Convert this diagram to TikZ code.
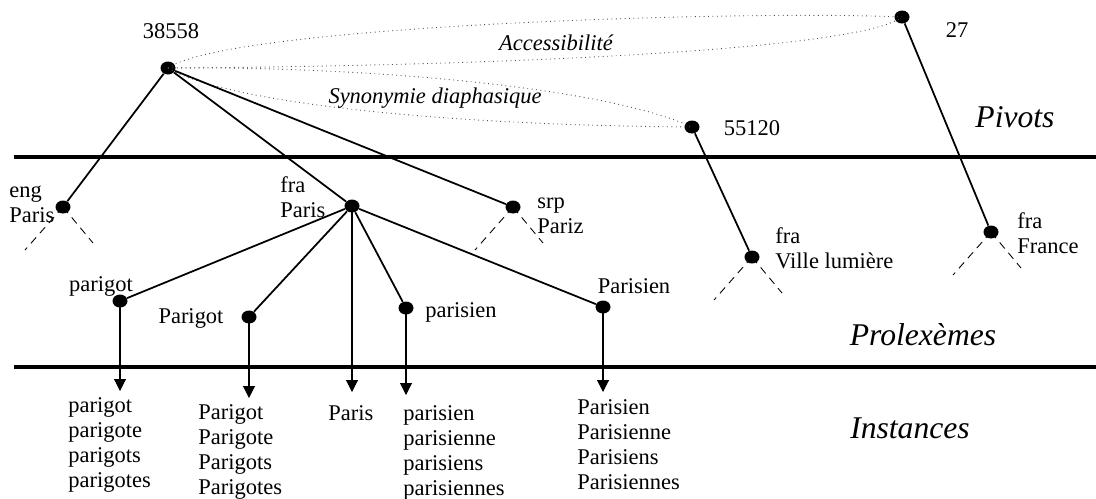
\documentclass[tikz,border=0pt]{standalone}
\usepackage{fontspec}
\setmainfont{Liberation Serif}
\usetikzlibrary{arrows.meta,shapes.geometric}
\begin{document}
\begin{tikzpicture}
  [x=0.02cm,y=-0.02cm,
   every node/.style={font=\fontsize{12.8}{14.2}\selectfont},
   dot/.style={ellipse,fill=black,inner sep=0pt,minimum width=15*0.02cm,minimum height=13*0.02cm},
   txt/.style={inner sep=0pt,align=left},
   lvl/.style={font=\fontsize{18}{21}\selectfont\itshape,inner sep=0pt},
   rlbl/.style={font=\fontsize{12.8}{14.2}\selectfont\itshape,inner sep=0pt},
   sep/.style={line width=2.2pt},
   link/.style={line width=1pt},
   leaf/.style={line width=0.5pt,dash pattern=on 4.5pt off 3.2pt},
   inst/.style={line width=0.6pt,-{Triangle[width=0.24cm,length=0.24cm]}},
   rel/.style={line width=0.5pt,dotted,black!70}]
  \useasboundingbox (0,0) rectangle (1096,498);

  % levels
  \draw[sep] (14,157) -- (1096,157);
  \draw[sep] (14,367) -- (1096,367);
  \node[lvl] (pivots) at (1015,117) {Pivots};
  \node[lvl] (prolex) at (923,335) {Prolexèmes};
  \node[lvl] (instances) at (910,428) {Instances};

  % pivots
  \node[dot] (p38558) at (168,68) {};
  \node[dot] (p27) at (902,17) {};
  \node[dot] (p55120) at (692,127) {};
  \node[txt] (l38558) at (171,31) {38558};
  \node[txt] (l27) at (957,30) {27};
  \node[txt] (l55120) at (752,128) {55120};

  % relations between pivots
  \draw[rel] (p38558.center) .. controls (230,25) and (750,10) .. (p27.center);
  \draw[rel] (p38558.center) .. controls (500,66) and (860,50) .. (p27.center);
  \draw[rel] (p38558.center) .. controls (350,66) and (600,85) .. (p55120.center);
  \draw[rel] (p38558.center) .. controls (220,100) and (420,125) .. (p55120.center);
  \node[rlbl] (access) at (556,43) {Accessibilité};
  \node[rlbl] (synon) at (435,98) {Synonymie diaphasique};

  % prolexemes
  \node[dot] (eng) at (63,207) {};
  \node[dot] (fra) at (352,206) {};
  \node[dot] (srp) at (513,207) {};
  \node[dot] (vil) at (752,257) {};
  \node[dot] (fr) at (991,232) {};
  \node[txt,anchor=west] (leng) at (9,204) {eng\\Paris};
  \node[txt,anchor=west] (lfra) at (280,197) {fra\\Paris};
  \node[txt,anchor=west] (lsrp) at (537,216) {srp\\Pariz};
  \node[txt,anchor=west] (lvil) at (775,248) {fra\\Ville lumière};
  \node[txt,anchor=west] (lfr) at (1017,233) {fra\\France};

  \node[dot] (parigot) at (120,301) {};
  \node[dot] (Parigot) at (249,317) {};
  \node[dot] (parisien) at (406,308) {};
  \node[dot] (Parisien) at (603,307) {};
  \node[txt] (lparigot) at (101,286) {parigot};
  \node[txt] (lParigot) at (191,318) {Parigot};
  \node[txt] (lparisien) at (461,312) {parisien};
  \node[txt] (lParisien) at (634,286) {Parisien};

  \foreach \from/\to in {p38558/eng,p38558/fra,p38558/srp,p55120/vil,p27/fr,
  fra/parigot,fra/Parigot,fra/parisien,fra/Parisien}
    \draw[link] (\from) -- (\to);

  \foreach \n in {eng,srp,vil,fr}{
    \draw[leaf] (\n.center) -- ++(-38,43) coordinate (\n l);
    \draw[leaf] (\n.center) -- ++(30,36) coordinate (\n r);
  }

  % instances
  \coordinate (aparigot) at (120,391);
  \coordinate (aParigot) at (249,398);
  \coordinate (afra) at (352,392);
  \coordinate (aparisien) at (406,395);
  \coordinate (aParisien) at (603,392);
  \node[txt,anchor=north west] (iparigot) at (68,397) {parigot\\parigote\\parigots\\parigotes};
  \node[txt,anchor=north west] (iParigot) at (198,404) {Parigot\\Parigote\\Parigots\\Parigotes};
  \node[txt,anchor=west] (ifra) at (328,413) {Paris};
  \node[txt,anchor=north west] (iparisien) at (403,405) {parisien\\parisienne\\parisiens\\parisiennes};
  \node[txt,anchor=north west] (iParisien) at (577,399) {Parisien\\Parisienne\\Parisiens\\Parisiennes};

  \foreach \from/\to in {parigot/aparigot,Parigot/aParigot,fra/afra,
  parisien/aparisien,Parisien/aParisien}
    \draw[inst] (\from.center) -- (\to);
\end{tikzpicture}
\end{document}
